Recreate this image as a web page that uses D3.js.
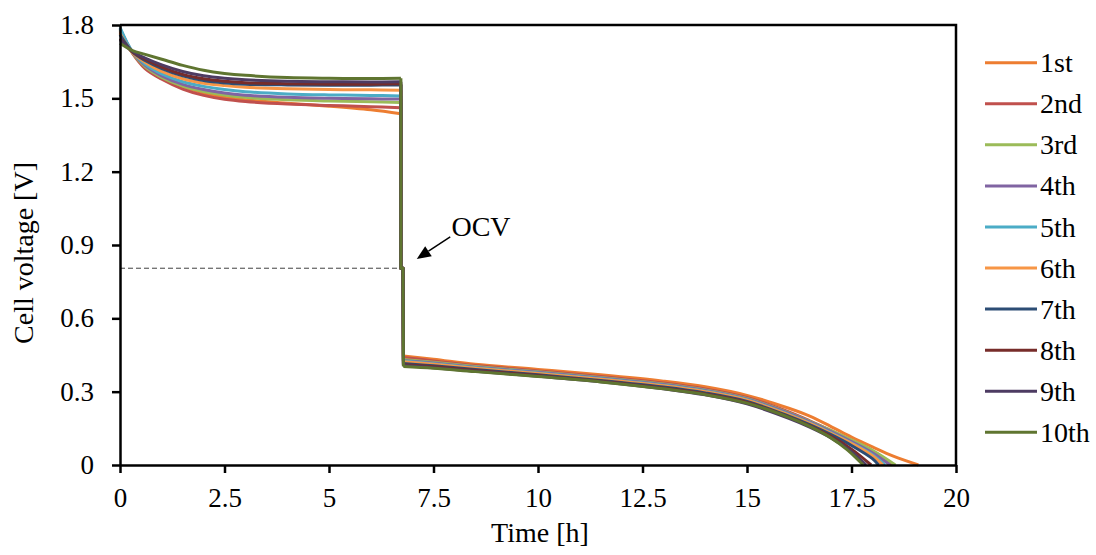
<!DOCTYPE html>
<html>
<head>
<meta charset="utf-8">
<script src="https://cdn.jsdelivr.net/npm/d3@7"></script>
<style>
  html, body { margin: 0; padding: 0; background: #fff; }
  svg { display: block; font-family: "Liberation Serif", "Times New Roman", serif; }
</style>
</head>
<body>
<svg id="chart" width="1096" height="555"></svg>
<script>
// ---- data -------------------------------------------------------------
const cycleNames = ["1st", "2nd", "3rd", "4th", "5th", "6th", "7th", "8th", "9th", "10th"];

// charging step: time [h] grid shared by every cycle
const chargeTime = [0, 0.3, 0.6, 1, 1.5, 2, 2.5, 3, 4, 5, 6, 6.72];
const chargeVoltage = [
  [1.770, 1.686, 1.628, 1.585, 1.548, 1.522, 1.505, 1.494, 1.480, 1.468, 1.453, 1.437],
  [1.775, 1.684, 1.622, 1.578, 1.538, 1.512, 1.496, 1.487, 1.477, 1.471, 1.466, 1.461],
  [1.780, 1.686, 1.630, 1.586, 1.550, 1.528, 1.514, 1.504, 1.494, 1.489, 1.486, 1.483],
  [1.785, 1.688, 1.635, 1.592, 1.557, 1.536, 1.522, 1.513, 1.504, 1.500, 1.498, 1.497],
  [1.790, 1.690, 1.640, 1.600, 1.568, 1.549, 1.536, 1.527, 1.518, 1.514, 1.512, 1.510],
  [1.765, 1.688, 1.648, 1.610, 1.580, 1.562, 1.552, 1.545, 1.539, 1.536, 1.535, 1.533],
  [1.760, 1.690, 1.655, 1.622, 1.592, 1.573, 1.563, 1.558, 1.555, 1.554, 1.554, 1.555],
  [1.745, 1.690, 1.660, 1.628, 1.598, 1.580, 1.570, 1.564, 1.560, 1.558, 1.558, 1.560],
  [1.740, 1.692, 1.665, 1.637, 1.610, 1.592, 1.582, 1.576, 1.570, 1.568, 1.567, 1.568],
  [1.725, 1.695, 1.680, 1.660, 1.635, 1.615, 1.602, 1.594, 1.585, 1.582, 1.581, 1.582]
];

// open-circuit rest between charge and discharge
const ocvTime = [6.72, 6.77];
const ocvVoltage = 0.805;

// discharging step: shared time grid, then each cycle's own tail down to 0 V
const dischargeTime = [6.78, 7.5, 8.5, 10, 11.5, 13, 14, 15, 16];
const dischargeVoltage = [
  [0.446, 0.433, 0.412, 0.391, 0.369, 0.343, 0.320, 0.285, 0.232],
  [0.440, 0.426, 0.407, 0.385, 0.362, 0.335, 0.311, 0.276, 0.217],
  [0.432, 0.420, 0.403, 0.381, 0.358, 0.331, 0.307, 0.272, 0.213],
  [0.428, 0.417, 0.400, 0.379, 0.356, 0.329, 0.305, 0.270, 0.211],
  [0.425, 0.414, 0.398, 0.376, 0.353, 0.326, 0.302, 0.267, 0.207],
  [0.422, 0.412, 0.396, 0.374, 0.351, 0.324, 0.300, 0.265, 0.205],
  [0.415, 0.406, 0.391, 0.369, 0.346, 0.319, 0.295, 0.260, 0.200],
  [0.410, 0.402, 0.387, 0.366, 0.343, 0.315, 0.291, 0.256, 0.196],
  [0.407, 0.398, 0.384, 0.363, 0.341, 0.312, 0.287, 0.250, 0.191],
  [0.403, 0.396, 0.382, 0.362, 0.340, 0.312, 0.288, 0.253, 0.195]
];
const dischargeTail = [
  [[16.5, 0.200], [17, 0.158], [17.5, 0.114], [18, 0.074], [18.5, 0.036], [19.1, 0]],
  [[16.5, 0.181], [17, 0.142], [17.5, 0.100], [18, 0.056], [18.48, 0]],
  [[16.5, 0.178], [17, 0.142], [17.5, 0.102], [18, 0.060], [18.55, 0]],
  [[16.5, 0.176], [17, 0.138], [17.5, 0.096], [18, 0.050], [18.42, 0]],
  [[16.5, 0.172], [17, 0.133], [17.5, 0.090], [18, 0.042], [18.3, 0]],
  [[16.5, 0.170], [17, 0.130], [17.5, 0.088], [18, 0.038], [18.25, 0]],
  [[16.5, 0.165], [17, 0.125], [17.5, 0.080], [18, 0.026], [18.15, 0]],
  [[16.5, 0.160], [17, 0.118], [17.5, 0.065], [17.97, 0]],
  [[16.5, 0.155], [17, 0.112], [17.5, 0.055], [17.85, 0]],
  [[16.5, 0.158], [17, 0.112], [17.4, 0.062], [17.78, 0]]
];

const xTickLabels = ["0", "2.5", "5", "7.5", "10", "12.5", "15", "17.5", "20"];
const yTickLabels = ["0", "0.3", "0.6", "0.9", "1.2", "1.5", "1.8"];

// ---- styling ----------------------------------------------------------
const palette = ["#ED7D31", "#C0504D", "#9BBB59", "#8064A2", "#4BACC6",
                 "#F79646", "#2C4D75", "#772C2A", "#4D3B62", "#5F7530"];

const svg = d3.select("#chart");
const plot = { left: 120, right: 956, top: 25, bottom: 465 };

const x = d3.scaleLinear().domain([0, 20]).range([plot.left, plot.right]);
const y = d3.scaleLinear().domain([0, 1.8]).range([plot.bottom, plot.top]);

const smooth = d3.line().x(d => x(d[0])).y(d => y(d[1])).curve(d3.curveCatmullRom.alpha(0.5));
const straight = d3.line().x(d => x(d[0])).y(d => y(d[1]));

// dashed OCV reference level
svg.append("line")
  .attr("x1", x(0)).attr("x2", x(6.65))
  .attr("y1", y(ocvVoltage)).attr("y2", y(ocvVoltage))
  .attr("stroke", "#404040").attr("stroke-width", 1)
  .attr("stroke-dasharray", "5,3");

// one trace per cycle: charge, rest, discharge
const traces = svg.append("g").attr("fill", "none")
  .attr("stroke-width", 3).attr("stroke-linejoin", "round");

cycleNames.forEach((name, i) => {
  const charge = chargeTime.map((t, k) => [t, chargeVoltage[i][k]]);
  const discharge = dischargeTime.map((t, k) => [t, dischargeVoltage[i][k]])
    .concat(dischargeTail[i]);
  const rest = [charge[charge.length - 1], [ocvTime[0], ocvVoltage],
                [ocvTime[1], ocvVoltage], discharge[0]];
  const g = traces.append("g").attr("stroke", palette[i]);
  g.append("path").attr("d", smooth(charge));
  g.append("path").attr("d", straight(rest));
  g.append("path").attr("d", smooth(discharge));
});

// axes
const axisStroke = 2.5;
const xAxis = d3.axisBottom(x).tickValues(xTickLabels.map(Number))
  .tickFormat((d, i) => xTickLabels[i]).tickSize(8).tickPadding(15).tickSizeOuter(0);
const yAxis = d3.axisLeft(y).tickValues(yTickLabels.map(Number))
  .tickFormat((d, i) => yTickLabels[i]).tickSize(8).tickPadding(18).tickSizeOuter(0);

const gx = svg.append("g").attr("transform", `translate(0,${plot.bottom})`).call(xAxis);
const gy = svg.append("g").attr("transform", `translate(${plot.left},0)`).call(yAxis);
[gx, gy].forEach(g => {
  g.selectAll("path, line").attr("stroke", "#000").attr("stroke-width", axisStroke);
  g.selectAll("text").attr("fill", "#000").attr("font-size", 27)
    .attr("font-family", "'Liberation Serif', 'Times New Roman', serif");
});

// top and right frame lines
svg.append("path")
  .attr("d", `M${plot.left},${plot.top}H${plot.right}V${plot.bottom}`)
  .attr("fill", "none").attr("stroke", "#000").attr("stroke-width", axisStroke);

// axis titles
svg.append("text")
  .attr("x", 540).attr("y", 542)
  .attr("text-anchor", "middle").attr("font-size", 28)
  .text("Time [h]");
svg.append("text")
  .attr("transform", "translate(33,253) rotate(-90)")
  .attr("text-anchor", "middle").attr("font-size", 28)
  .text("Cell voltage [V]");

// OCV annotation with arrow
const tail = [x(7.9), y(0.933)], tip = [x(7.1), y(0.843)];
const ang = Math.atan2(tip[1] - tail[1], tip[0] - tail[0]);
const headLen = 14, headHalf = 6;
const base = [tip[0] - headLen * Math.cos(ang), tip[1] - headLen * Math.sin(ang)];
svg.append("line")
  .attr("x1", tail[0]).attr("y1", tail[1]).attr("x2", base[0]).attr("y2", base[1])
  .attr("stroke", "#000").attr("stroke-width", 1.5);
svg.append("path")
  .attr("d", `M${tip[0]},${tip[1]}` +
    `L${base[0] + headHalf * Math.sin(ang)},${base[1] - headHalf * Math.cos(ang)}` +
    `L${base[0] - headHalf * Math.sin(ang)},${base[1] + headHalf * Math.cos(ang)}Z`)
  .attr("fill", "#000");
svg.append("text")
  .attr("x", x(7.93)).attr("y", y(0.935))
  .attr("font-size", 28).text("OCV");

// legend
const legend = svg.append("g");
cycleNames.forEach((name, i) => {
  const row = legend.append("g").attr("transform", `translate(985,${62.7 + i * 41.07})`);
  row.append("line").attr("x1", 0).attr("x2", 52)
    .attr("stroke", palette[i]).attr("stroke-width", 3);
  row.append("text").attr("x", 55).attr("dy", "0.34em")
    .attr("font-size", 28).text(name);
});
</script>
</body>
</html>
